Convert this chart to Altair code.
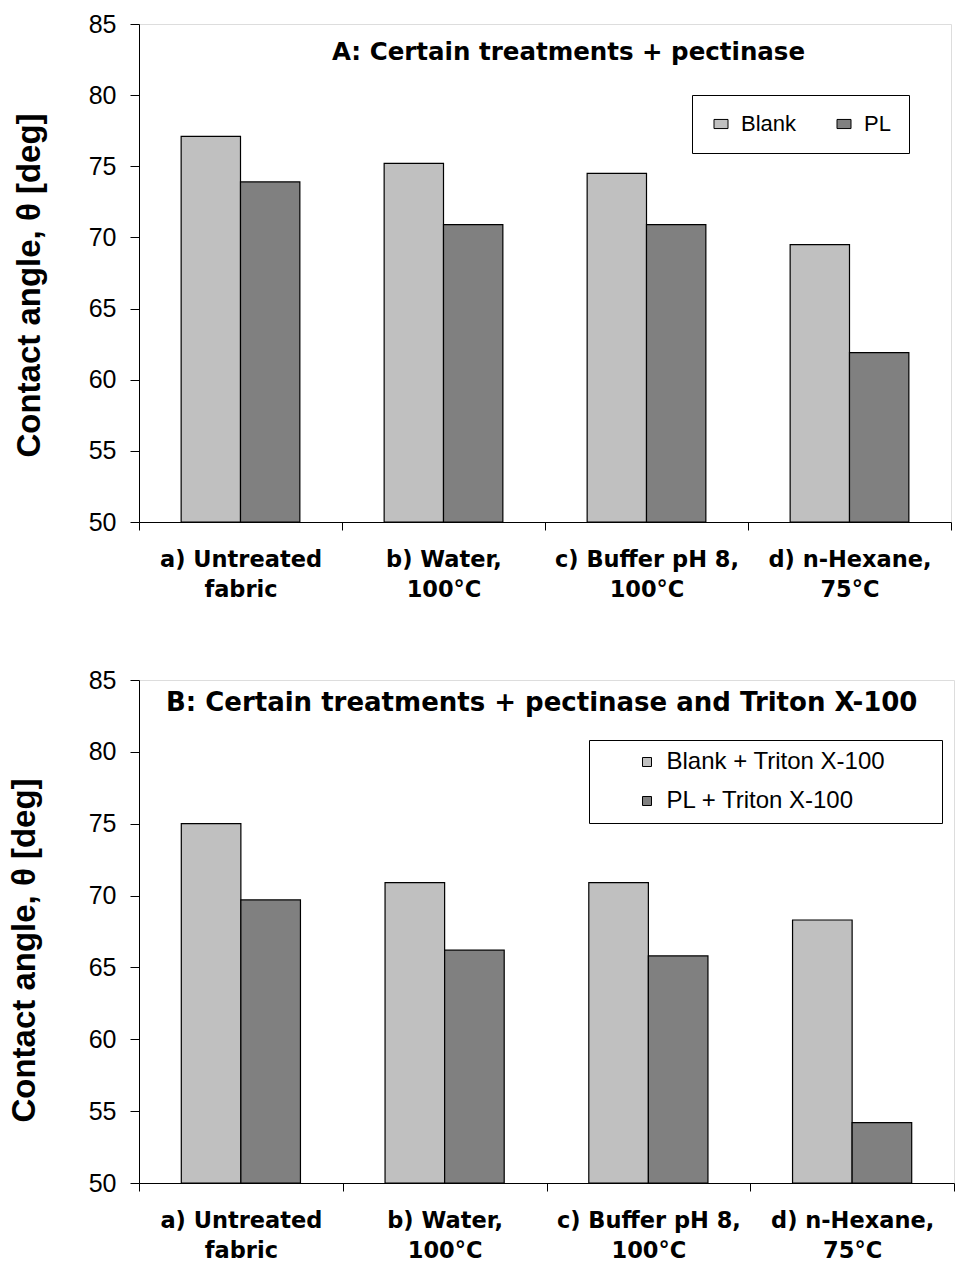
import altair as alt
import pandas as pd

CATEGORIES = ["a) Untreated\nfabric", "b) Water,\n100°C", "c) Buffer pH 8,\n100°C", "d) n-Hexane,\n75°C"]
A_SERIES = ["Blank", "PL"]
A_BLANK = [77.1, 75.2, 74.5, 69.5]
A_PL = [73.9, 70.9, 70.9, 61.9]
B_SERIES = ["Blank + Triton X-100", "PL + Triton X-100"]
B_BLANK = [75.0, 70.9, 70.9, 68.3]
B_PL = [69.7, 66.2, 65.8, 54.2]
Y_TICKS = [50, 55, 60, 65, 70, 75, 80, 85]
Y_MIN, Y_MAX = 50, 85
TITLE_A = "A: Certain treatments + pectinase"
TITLE_B = "B: Certain treatments + pectinase and Triton X-100"
Y_TITLE = "Contact angle, θ [deg]"
COLORS = ["#C0C0C0", "#808080"]


def make_df(series, first, second):
    rows = []
    for cat, v1, v2 in zip(CATEGORIES, first, second):
        rows.append({"cat": cat, "series": series[0], "value": v1})
        rows.append({"cat": cat, "series": series[1], "value": v2})
    return pd.DataFrame(rows)


def panel(df, series, title, width, height, legend, title_pos, title_size,
          ytitle_x, ytitle_y):
    bars = alt.Chart(df).mark_bar(stroke="black", strokeWidth=1.2).encode(
        x=alt.X("cat:N", sort=CATEGORIES,
                scale=alt.Scale(paddingInner=0, paddingOuter=0),
                axis=alt.Axis(title=None, labelAngle=0,
                              labelExpr="split(datum.label, '\\n')",
                              labelFont="DejaVu Sans", labelFontWeight="bold",
                              labelFontSize=22.5, labelLineHeight=30,
                              labelColor="black", labelPadding=18,
                              labelLimit=300, tickBand="extent", tickSize=8,
                              tickColor="black", domainColor="black",
                              grid=False)),
        xOffset=alt.XOffset("series:N", sort=series,
                            scale=alt.Scale(paddingInner=0, paddingOuter=0.71)),
        y=alt.Y("value:Q",
                scale=alt.Scale(domain=[Y_MIN, Y_MAX], nice=False, zero=False),
                axis=alt.Axis(values=Y_TICKS, title=Y_TITLE,
                              titleFont="Liberation Sans", titleFontSize=33,
                              titleFontWeight="bold", titleColor="black",
                              titleX=ytitle_x, titleY=ytitle_y,
                              titleBaseline="alphabetic", titleAngle=270,
                              titleAlign="center",
                              labelFont="Liberation Sans", labelFontSize=25,
                              labelColor="black", labelPadding=14,
                              tickSize=9, tickColor="black",
                              domainColor="black", grid=False)),
        y2=alt.datum(Y_MIN),
        color=alt.Color("series:N", sort=series,
                        scale=alt.Scale(domain=series, range=COLORS),
                        legend=legend),
    )
    txt = alt.Chart(pd.DataFrame({"t": [title]})).mark_text(
        font="DejaVu Sans", fontWeight="bold", fontSize=title_size,
        color="black", align="center", baseline="alphabetic",
    ).encode(text="t:N", x=alt.value(title_pos[0]), y=alt.value(title_pos[1]))
    return alt.layer(bars, txt).properties(width=width, height=height)


legend_a = alt.Legend(
    title=None, orient="none", legendX=553, legendY=71,
    direction="horizontal", strokeColor="black", fillColor="white",
    padding=18, symbolType="M-1,-0.65H1V0.65H-1Z", symbolSize=196,
    symbolStrokeColor="black", symbolStrokeWidth=1,
    labelFont="Liberation Sans", labelFontSize=22, labelColor="black",
    labelOffset=9, columnPadding=36, labelLimit=400,
)

legend_b = alt.Legend(
    title=" ", titleOrient="right", titleFontSize=1, titlePadding=47,
    orient="none", legendX=450, legendY=60,
    direction="vertical", strokeColor="black", fillColor="white",
    padding=10, symbolType="square", symbolSize=81,
    symbolStrokeColor="black", symbolStrokeWidth=1,
    symbolOffset=36,
    labelFont="Liberation Sans", labelFontSize=24, labelColor="black",
    labelOffset=7.5, rowPadding=15, labelLimit=500,
)

chart_a = panel(make_df(A_SERIES, A_BLANK, A_PL), A_SERIES, TITLE_A, 812, 498,
                legend_a, (429.5, 35.7), 24.5, -100, 261)
chart_b = panel(make_df(B_SERIES, B_BLANK, B_PL), B_SERIES, TITLE_B, 815, 503,
                legend_b, (402.7, 31.3), 26, -105, 270)

chart = alt.vconcat(chart_a, chart_b, spacing=66).resolve_scale(
    x="independent", y="independent", color="independent", xOffset="independent"
).properties(
    padding={"left": 7, "top": 11, "right": 0, "bottom": 0}
).configure_view(stroke="black", strokeWidth=1).configure(background="white")

chart.save("out.html", embed_options={"renderer": "svg", "actions": False})
